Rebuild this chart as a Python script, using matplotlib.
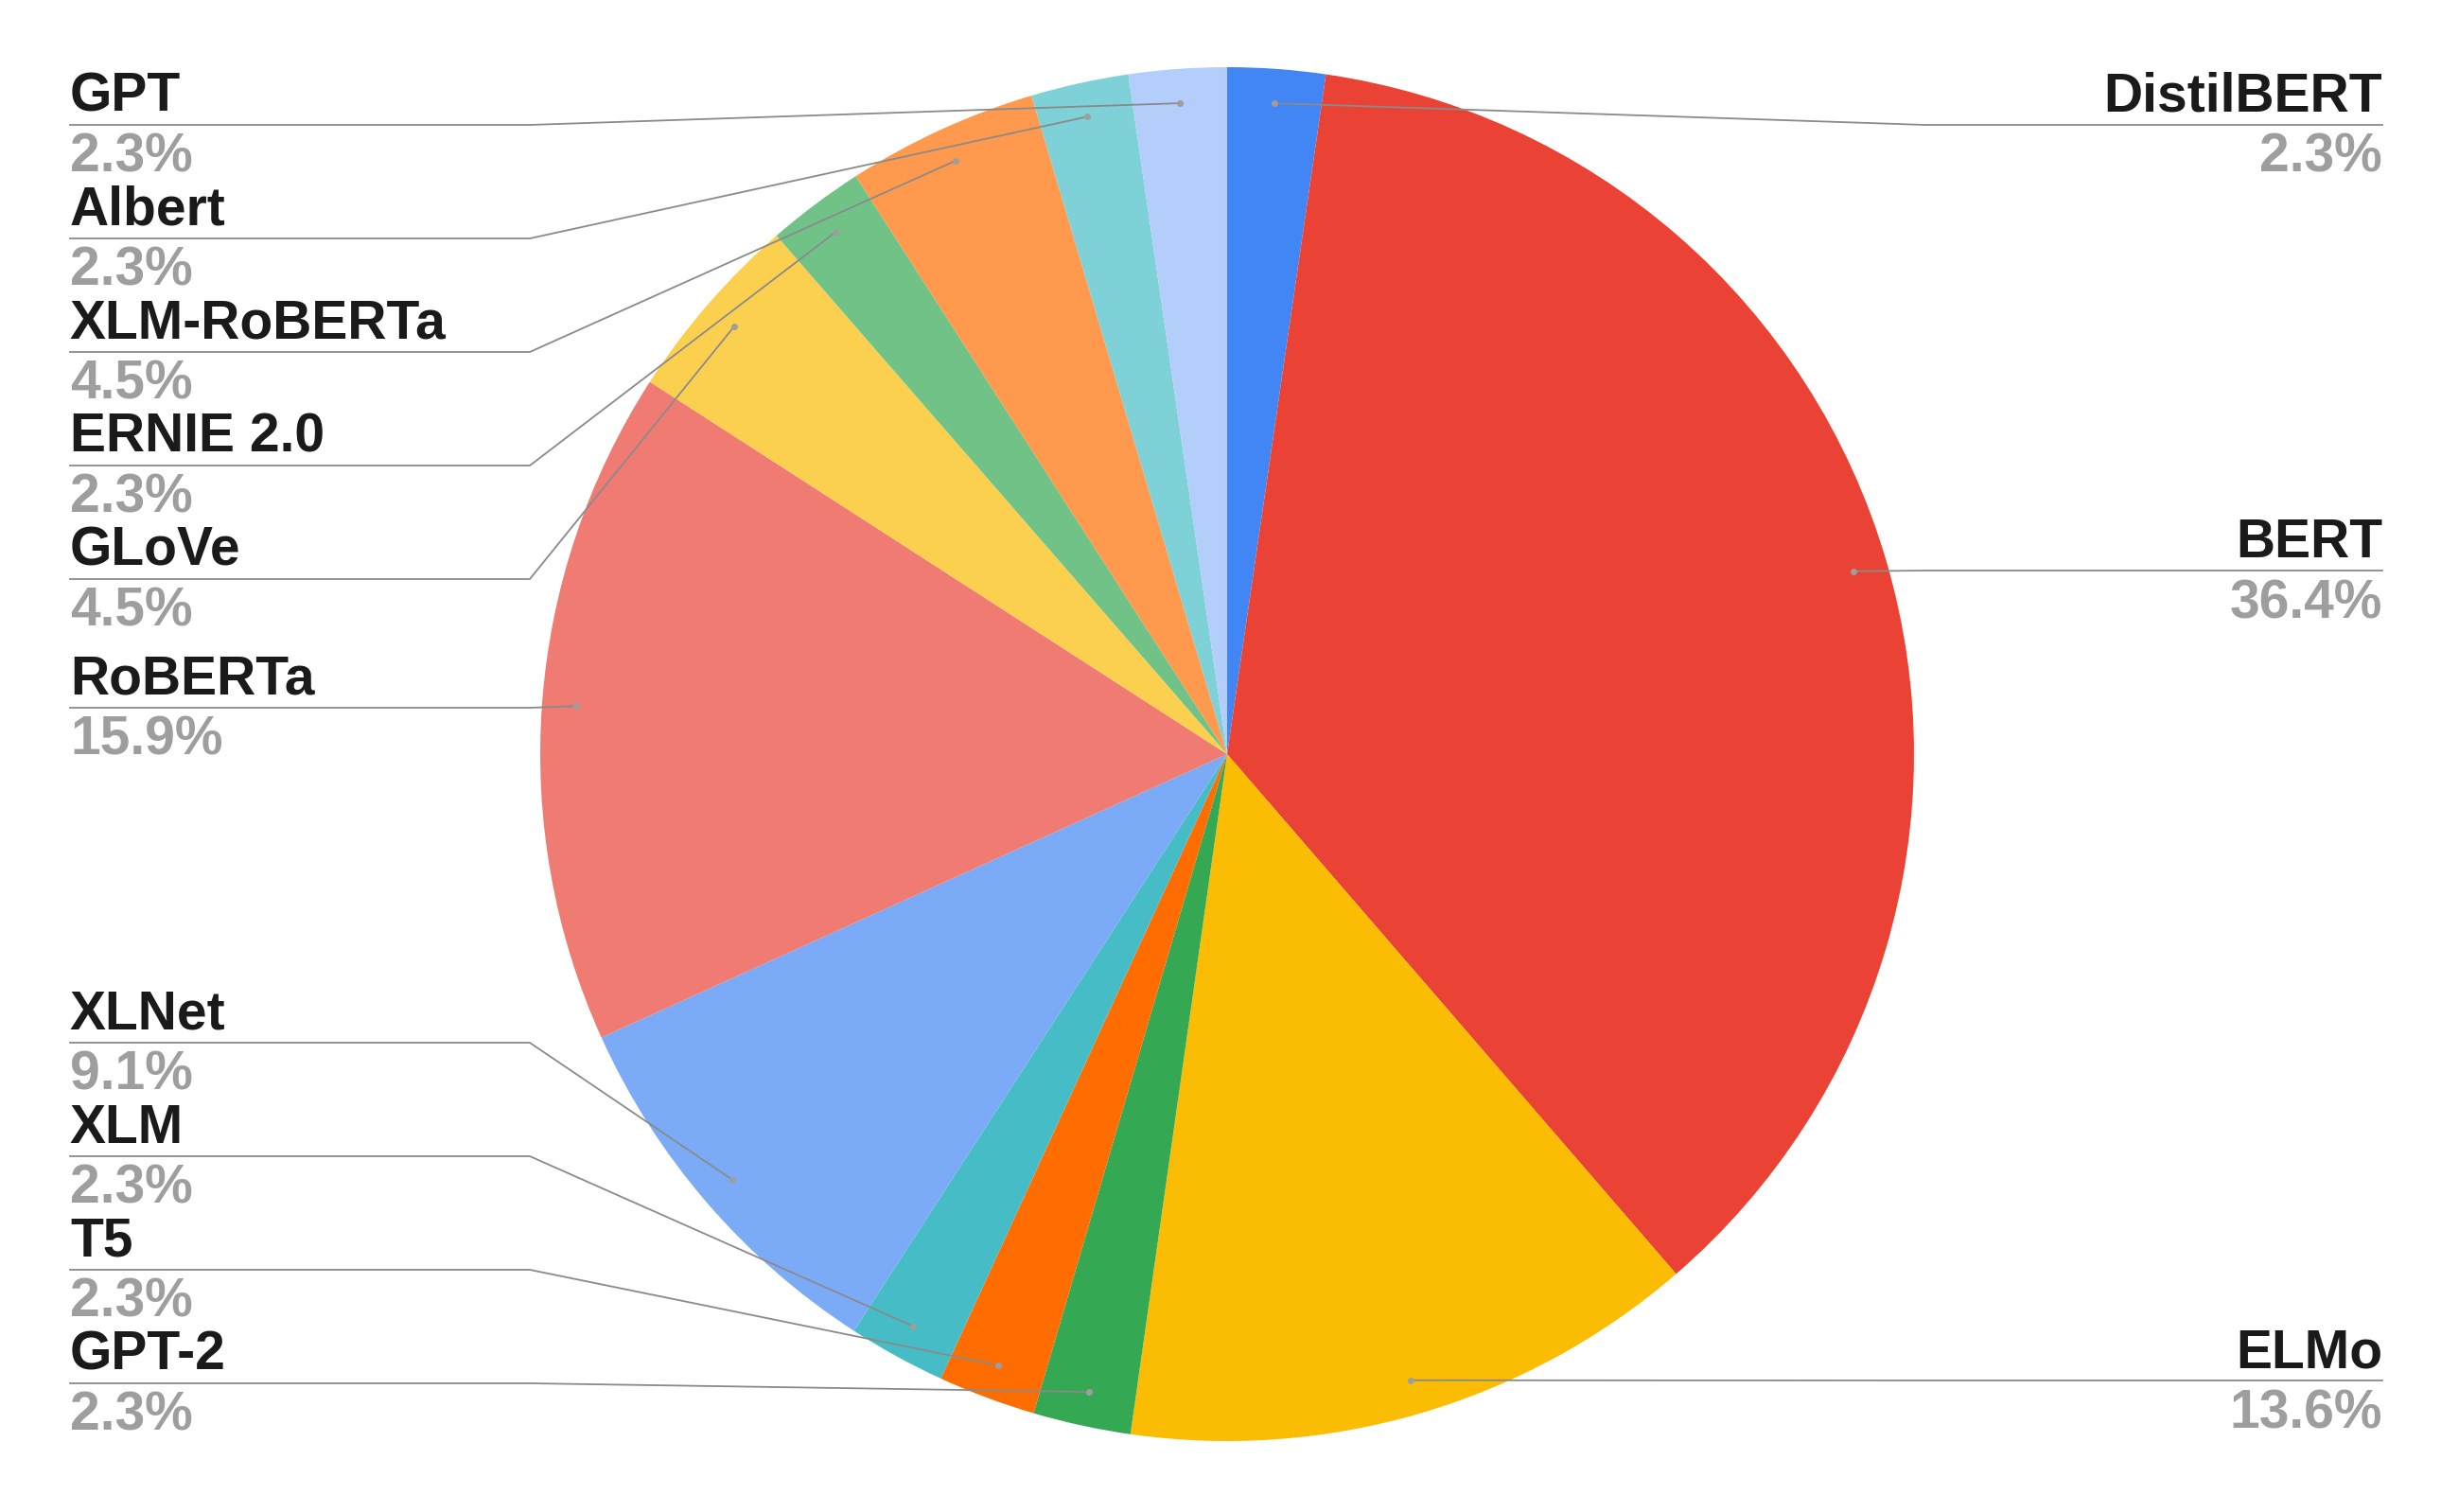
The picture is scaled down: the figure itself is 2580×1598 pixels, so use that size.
import numpy as np
import matplotlib
matplotlib.use("Agg")
import matplotlib.pyplot as plt

# data, clockwise from 12 o'clock
models = ["DistilBERT", "BERT", "ELMo", "GPT-2", "T5", "XLM", "XLNet",
          "RoBERTa", "GLoVe", "ERNIE 2.0", "XLM-RoBERTa", "Albert", "GPT"]
shares = [2.3, 36.4, 13.6, 2.3, 2.3, 2.3, 9.1, 15.9, 4.5, 2.3, 4.5, 2.3, 2.3]
colors = ["#4285F4", "#EA4335", "#FBBC04", "#34A853", "#FF6D01", "#46BDC6", "#7BAAF7",
          "#F07B72", "#FCD04F", "#71C287", "#FF994D", "#7ED1D7", "#B3CEFB"]

# label layout (pixel rows from the top of the image)
side = ["R", "R", "R", "L", "L", "L", "L", "L", "L", "L", "L", "L", "L"]
line_y = [132, 603, 1459, 1462, 1342, 1222, 1102, 748, 612, 492, 372, 252, 132]

W, H = 2580, 1598
cx, cy, R = 1297, H - 797, 726
left_x, right_x = 74, 2518
elbow_l, elbow_r = 560, 2035

plt.rcParams["font.family"] = ["Liberation Sans", "DejaVu Sans"]

fig = plt.figure(figsize=(W / 100, H / 100), dpi=100)
ax = fig.add_axes([0, 0, 1, 1])

wedges, _ = ax.pie(shares, colors=colors, startangle=90, counterclock=False,
                   center=(cx, cy), radius=R, wedgeprops=dict(linewidth=0))

ax.set_xlim(0, W)
ax.set_ylim(0, H)
ax.set_aspect("equal")
ax.axis("off")

for w, name, val, s, ly in zip(wedges, models, shares, side, line_y):
    mid = np.deg2rad((w.theta1 + w.theta2) / 2)
    axp = cx + 0.95 * R * np.cos(mid)
    ayp = cy + 0.95 * R * np.sin(mid)
    y = H - ly
    if s == "L":
        xs = [left_x, elbow_l, axp]
        tx, ha = left_x, "left"
    else:
        xs = [right_x, elbow_r, axp]
        tx, ha = right_x, "right"
    ax.plot(xs, [y, y, ayp], color="#8a8a8a", linewidth=1.3, zorder=3)
    ax.plot(axp, ayp, "o", color="#9e9e9e", markersize=4, zorder=4)
    ax.text(tx, y + 14, name, ha=ha, va="baseline", fontsize=41,
            fontweight="bold", color="#1a1a1a")
    ax.text(tx, y - 50, f"{val:.1f}%", ha=ha, va="baseline", fontsize=41,
            fontweight="bold", color="#9e9e9e")

plt.savefig("out.png", dpi=100)
plt.close()
